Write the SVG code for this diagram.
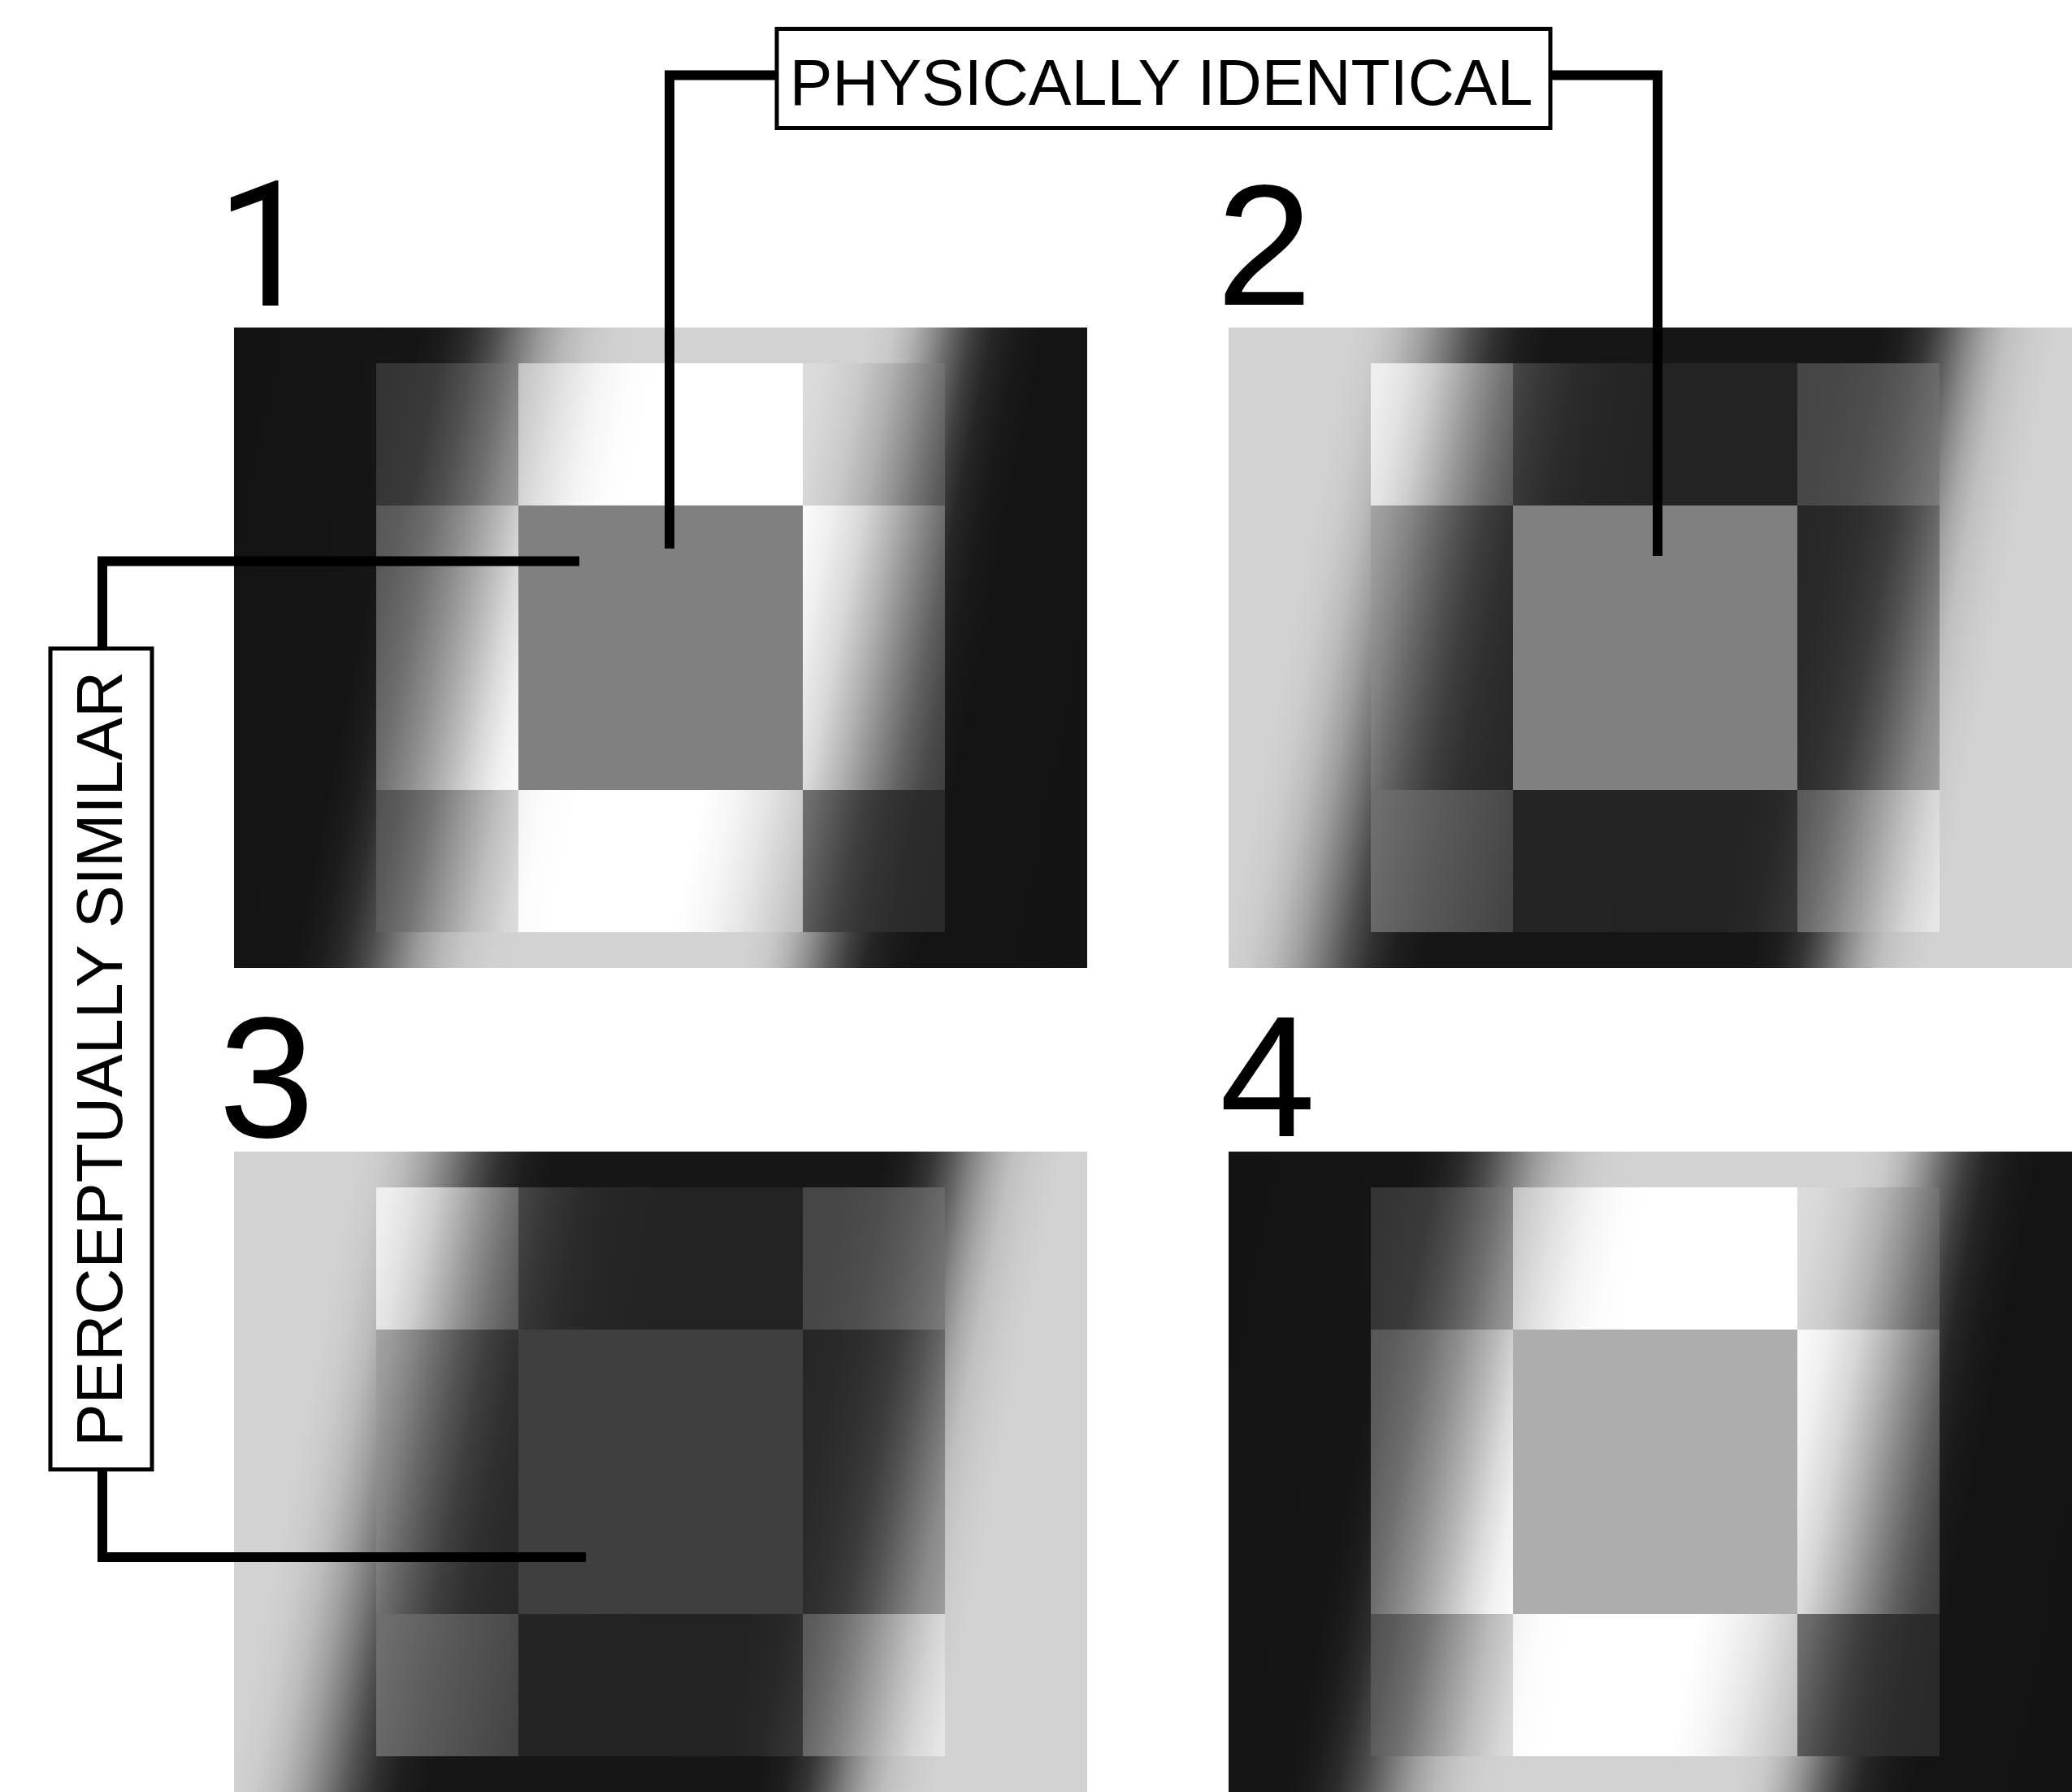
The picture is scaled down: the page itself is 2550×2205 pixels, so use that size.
<svg xmlns="http://www.w3.org/2000/svg" width="2550" height="2205" viewBox="0 0 2550 2205">
<style>
.lbl{font-family:"Liberation Sans",Arial,Helvetica,sans-serif;fill:#000}
.lbl.one{font-family:Roboto,"Open Sans",sans-serif}
.num{font-size:212px}
.tag{font-size:79px}
.box{fill:#fff;stroke:#000;stroke-width:5}
.conn{fill:none;stroke:#000;stroke-width:12;stroke-linejoin:miter;stroke-linecap:butt}
</style>
<defs>
<linearGradient id="gA" gradientUnits="userSpaceOnUse" x1="0" y1="0" x2="1250" y2="0" gradientTransform="skewX(-11.31)">
<stop offset="0" stop-color="#131313"/><stop offset=".184" stop-color="#151515"/><stop offset=".208" stop-color="#1c1c1c"/><stop offset=".232" stop-color="#2c2c2c"/><stop offset=".256" stop-color="#4a4a4a"/><stop offset=".28" stop-color="#747474"/><stop offset=".304" stop-color="#9c9c9c"/><stop offset=".328" stop-color="#b8b8b8"/><stop offset=".352" stop-color="#c8c8c8"/><stop offset=".376" stop-color="#d0d0d0"/><stop offset=".4" stop-color="#d2d2d2"/><stop offset=".624" stop-color="#d2d2d2"/><stop offset=".648" stop-color="#cacaca"/><stop offset=".668" stop-color="#b4b4b4"/><stop offset=".688" stop-color="#909090"/><stop offset=".708" stop-color="#646464"/><stop offset=".728" stop-color="#3e3e3e"/><stop offset=".748" stop-color="#262626"/><stop offset=".772" stop-color="#1a1a1a"/><stop offset=".8" stop-color="#141414"/><stop offset="1" stop-color="#131313"/>
</linearGradient>
<linearGradient id="aTL" gradientUnits="userSpaceOnUse" x1="0" y1="0" x2="1250" y2="0" gradientTransform="skewX(-11.31)">
<stop offset="0" stop-color="#343434"/><stop offset=".16" stop-color="#343434"/><stop offset=".208" stop-color="#3a3a3a"/><stop offset=".24" stop-color="#505050"/><stop offset=".272" stop-color="#6e6e6e"/><stop offset=".296" stop-color="#8a8a8a"/><stop offset=".32" stop-color="#9e9e9e"/><stop offset=".344" stop-color="#aaaaaa"/>
</linearGradient>
<linearGradient id="aTC" gradientUnits="userSpaceOnUse" x1="0" y1="0" x2="1250" y2="0" gradientTransform="skewX(-11.31)">
<stop offset="0" stop-color="#b0b0b0"/><stop offset=".272" stop-color="#b8b8b8"/><stop offset=".304" stop-color="#cccccc"/><stop offset=".336" stop-color="#e2e2e2"/><stop offset=".368" stop-color="#f4f4f4"/><stop offset=".4" stop-color="#fdfdfd"/><stop offset=".424" stop-color="#ffffff"/>
</linearGradient>
<linearGradient id="aTR" gradientUnits="userSpaceOnUse" x1="0" y1="0" x2="1250" y2="0" gradientTransform="skewX(-11.31)">
<stop offset="0" stop-color="#e0e0e0"/><stop offset=".56" stop-color="#dedede"/><stop offset=".592" stop-color="#d8d8d8"/><stop offset=".624" stop-color="#cacaca"/><stop offset=".656" stop-color="#b0b0b0"/><stop offset=".68" stop-color="#949494"/><stop offset=".704" stop-color="#747474"/><stop offset=".724" stop-color="#5c5c5c"/><stop offset=".748" stop-color="#4a4a4a"/>
</linearGradient>
<linearGradient id="aML" gradientUnits="userSpaceOnUse" x1="0" y1="0" x2="1250" y2="0" gradientTransform="skewX(-11.31)">
<stop offset="0" stop-color="#555555"/><stop offset=".168" stop-color="#555555"/><stop offset=".2" stop-color="#5c5c5c"/><stop offset=".232" stop-color="#6e6e6e"/><stop offset=".264" stop-color="#8e8e8e"/><stop offset=".296" stop-color="#b4b4b4"/><stop offset=".324" stop-color="#d8d8d8"/><stop offset=".348" stop-color="#f0f0f0"/><stop offset=".372" stop-color="#fcfcfc"/>
</linearGradient>
<linearGradient id="aMR" gradientUnits="userSpaceOnUse" x1="0" y1="0" x2="1250" y2="0" gradientTransform="skewX(-11.31)">
<stop offset="0" stop-color="#ffffff"/><stop offset=".592" stop-color="#fcfcfc"/><stop offset=".624" stop-color="#f0f0f0"/><stop offset=".656" stop-color="#d8d8d8"/><stop offset=".688" stop-color="#b0b0b0"/><stop offset=".716" stop-color="#888888"/><stop offset=".744" stop-color="#626262"/><stop offset=".768" stop-color="#4a4a4a"/><stop offset=".792" stop-color="#3e3e3e"/>
</linearGradient>
<linearGradient id="aBL" gradientUnits="userSpaceOnUse" x1="0" y1="0" x2="1250" y2="0" gradientTransform="skewX(-11.31)">
<stop offset="0" stop-color="#4a4a4a"/><stop offset=".224" stop-color="#4e4e4e"/><stop offset=".256" stop-color="#5a5a5a"/><stop offset=".288" stop-color="#727272"/><stop offset=".32" stop-color="#989898"/><stop offset=".352" stop-color="#bcbcbc"/><stop offset=".384" stop-color="#d6d6d6"/><stop offset=".408" stop-color="#e0e0e0"/>
</linearGradient>
<linearGradient id="aBC" gradientUnits="userSpaceOnUse" x1="0" y1="0" x2="1250" y2="0" gradientTransform="skewX(-11.31)">
<stop offset="0" stop-color="#f0f0f0"/><stop offset=".368" stop-color="#f2f2f2"/><stop offset=".4" stop-color="#fcfcfc"/><stop offset=".432" stop-color="#ffffff"/><stop offset=".552" stop-color="#ffffff"/><stop offset=".584" stop-color="#f6f6f6"/><stop offset=".616" stop-color="#e6e6e6"/><stop offset=".648" stop-color="#d0d0d0"/><stop offset=".68" stop-color="#b8b8b8"/>
</linearGradient>
<linearGradient id="aBR" gradientUnits="userSpaceOnUse" x1="0" y1="0" x2="1250" y2="0" gradientTransform="skewX(-11.31)">
<stop offset="0" stop-color="#787878"/><stop offset=".64" stop-color="#767676"/><stop offset=".664" stop-color="#6a6a6a"/><stop offset=".688" stop-color="#545454"/><stop offset=".712" stop-color="#404040"/><stop offset=".736" stop-color="#343434"/><stop offset=".768" stop-color="#2c2c2c"/><stop offset=".8" stop-color="#2a2a2a"/>
</linearGradient>
<linearGradient id="gB" gradientUnits="userSpaceOnUse" x1="0" y1="0" x2="1250" y2="0" gradientTransform="skewX(-11.31)">
<stop offset="0" stop-color="#d2d2d2"/><stop offset=".12" stop-color="#d2d2d2"/><stop offset=".144" stop-color="#cccccc"/><stop offset=".168" stop-color="#bcbcbc"/><stop offset=".192" stop-color="#a0a0a0"/><stop offset=".216" stop-color="#7a7a7a"/><stop offset=".24" stop-color="#505050"/><stop offset=".264" stop-color="#303030"/><stop offset=".288" stop-color="#1e1e1e"/><stop offset=".316" stop-color="#161616"/><stop offset=".64" stop-color="#161616"/><stop offset=".664" stop-color="#1e1e1e"/><stop offset=".688" stop-color="#343434"/><stop offset=".708" stop-color="#585858"/><stop offset=".728" stop-color="#848484"/><stop offset=".748" stop-color="#a8a8a8"/><stop offset=".768" stop-color="#c0c0c0"/><stop offset=".792" stop-color="#cccccc"/><stop offset=".816" stop-color="#d2d2d2"/><stop offset="1" stop-color="#d2d2d2"/>
</linearGradient>
<linearGradient id="bTL" gradientUnits="userSpaceOnUse" x1="0" y1="0" x2="1250" y2="0" gradientTransform="skewX(-11.31)">
<stop offset="0" stop-color="#f0f0f0"/><stop offset=".16" stop-color="#eeeeee"/><stop offset=".184" stop-color="#e2e2e2"/><stop offset=".208" stop-color="#cecece"/><stop offset=".232" stop-color="#b0b0b0"/><stop offset=".256" stop-color="#909090"/><stop offset=".28" stop-color="#747474"/><stop offset=".304" stop-color="#5e5e5e"/><stop offset=".328" stop-color="#505050"/>
</linearGradient>
<linearGradient id="bTC" gradientUnits="userSpaceOnUse" x1="0" y1="0" x2="1250" y2="0" gradientTransform="skewX(-11.31)">
<stop offset="0" stop-color="#505050"/><stop offset=".288" stop-color="#474747"/><stop offset=".32" stop-color="#363636"/><stop offset=".352" stop-color="#2b2b2b"/><stop offset=".384" stop-color="#262626"/><stop offset=".45" stop-color="#232323"/><stop offset="1" stop-color="#232323"/>
</linearGradient>
<linearGradient id="bTR" gradientUnits="userSpaceOnUse" x1="0" y1="0" x2="1250" y2="0" gradientTransform="skewX(-11.31)">
<stop offset="0" stop-color="#454545"/><stop offset=".56" stop-color="#454545"/><stop offset=".608" stop-color="#474747"/><stop offset=".648" stop-color="#4e4e4e"/><stop offset=".68" stop-color="#5a5a5a"/><stop offset=".708" stop-color="#6a6a6a"/><stop offset=".732" stop-color="#7a7a7a"/><stop offset=".76" stop-color="#8a8a8a"/>
</linearGradient>
<linearGradient id="bML" gradientUnits="userSpaceOnUse" x1="0" y1="0" x2="1250" y2="0" gradientTransform="skewX(-11.31)">
<stop offset="0" stop-color="#a8a8a8"/><stop offset=".168" stop-color="#a6a6a6"/><stop offset=".192" stop-color="#9a9a9a"/><stop offset=".216" stop-color="#848484"/><stop offset=".24" stop-color="#6a6a6a"/><stop offset=".264" stop-color="#525252"/><stop offset=".288" stop-color="#3e3e3e"/><stop offset=".316" stop-color="#303030"/><stop offset=".344" stop-color="#2a2a2a"/><stop offset=".372" stop-color="#272727"/>
</linearGradient>
<linearGradient id="bMR" gradientUnits="userSpaceOnUse" x1="0" y1="0" x2="1250" y2="0" gradientTransform="skewX(-11.31)">
<stop offset="0" stop-color="#262626"/><stop offset=".592" stop-color="#262626"/><stop offset=".632" stop-color="#292929"/><stop offset=".664" stop-color="#303030"/><stop offset=".692" stop-color="#3c3c3c"/><stop offset=".716" stop-color="#525252"/><stop offset=".74" stop-color="#6e6e6e"/><stop offset=".764" stop-color="#8a8a8a"/><stop offset=".792" stop-color="#9e9e9e"/>
</linearGradient>
<linearGradient id="bBL" gradientUnits="userSpaceOnUse" x1="0" y1="0" x2="1250" y2="0" gradientTransform="skewX(-11.31)">
<stop offset="0" stop-color="#707070"/><stop offset=".24" stop-color="#6e6e6e"/><stop offset=".304" stop-color="#5a5a5a"/><stop offset=".392" stop-color="#444444"/>
</linearGradient>
<linearGradient id="bBC" gradientUnits="userSpaceOnUse" x1="0" y1="0" x2="1250" y2="0" gradientTransform="skewX(-11.31)">
<stop offset="0" stop-color="#2a2a2a"/><stop offset=".384" stop-color="#242424"/><stop offset=".6" stop-color="#232323"/><stop offset=".636" stop-color="#282828"/><stop offset=".672" stop-color="#363636"/>
</linearGradient>
<linearGradient id="bBR" gradientUnits="userSpaceOnUse" x1="0" y1="0" x2="1250" y2="0" gradientTransform="skewX(-11.31)">
<stop offset="0" stop-color="#565656"/><stop offset=".64" stop-color="#565656"/><stop offset=".664" stop-color="#5c5c5c"/><stop offset=".688" stop-color="#6c6c6c"/><stop offset=".712" stop-color="#848484"/><stop offset=".736" stop-color="#a0a0a0"/><stop offset=".76" stop-color="#bcbcbc"/><stop offset=".784" stop-color="#d4d4d4"/><stop offset=".812" stop-color="#e6e6e6"/>
</linearGradient>
<g id="patA">
<rect width="1050" height="788" fill="url(#gA)"/>
<rect x="175" y="44" width="175" height="175" fill="url(#aTL)"/>
<rect x="350" y="44" width="350" height="175" fill="url(#aTC)"/>
<rect x="700" y="44" width="175" height="175" fill="url(#aTR)"/>
<rect x="175" y="219" width="175" height="350" fill="url(#aML)"/>
<rect x="700" y="219" width="175" height="350" fill="url(#aMR)"/>
<rect x="175" y="569" width="175" height="175" fill="url(#aBL)"/>
<rect x="350" y="569" width="350" height="175" fill="url(#aBC)"/>
<rect x="700" y="569" width="175" height="175" fill="url(#aBR)"/>
</g>
<g id="patB">
<rect width="1050" height="788" fill="url(#gB)"/>
<rect x="175" y="44" width="175" height="175" fill="url(#bTL)"/>
<rect x="350" y="44" width="350" height="175" fill="url(#bTC)"/>
<rect x="700" y="44" width="175" height="175" fill="url(#bTR)"/>
<rect x="175" y="219" width="175" height="350" fill="url(#bML)"/>
<rect x="700" y="219" width="175" height="350" fill="url(#bMR)"/>
<rect x="175" y="569" width="175" height="175" fill="url(#bBL)"/>
<rect x="350" y="569" width="350" height="175" fill="url(#bBC)"/>
<rect x="700" y="569" width="175" height="175" fill="url(#bBR)"/>
</g>
</defs>
<rect width="2550" height="2205" fill="#ffffff"/>
<g id="panel-1" transform="translate(288,403)">
<use href="#patA"/>
<rect x="350" y="219" width="350" height="350" fill="#808080"/>
</g>
<g id="panel-2" transform="translate(1512,403)">
<use href="#patB"/>
<rect x="350" y="219" width="350" height="350" fill="#808080"/>
</g>
<g id="panel-3" transform="translate(288,1417)">
<use href="#patB"/>
<rect x="350" y="219" width="350" height="350" fill="#3f3f3f"/>
</g>
<g id="panel-4" transform="translate(1512,1417)">
<use href="#patA"/>
<rect x="350" y="219" width="350" height="350" fill="#adadad"/>
</g>
<g id="numbers">
<text class="lbl one" x="266" y="376" font-size="215">1</text>
<text class="lbl num" x="1497" y="375">2</text>
<text class="lbl num" x="269" y="1399">3</text>
<text class="lbl num" x="1501" y="1398">4</text>
</g>
<g id="connectors">
<path class="conn" d="M956 92.5H824V675"/>
<path class="conn" d="M1908 92.5H2040V684"/>
<path class="conn" d="M713 690.5H126V798"/>
<path class="conn" d="M126 1808V1916H721"/>
</g>
<g id="physically-identical">
<rect class="box" x="956" y="35.5" width="952" height="122"/>
<text class="lbl tag" x="1429" y="129" text-anchor="middle">PHYSICALLY IDENTICAL</text>
</g>
<g id="perceptually-similar">
<rect class="box" x="62" y="798" width="125" height="1010"/>
<text class="lbl tag" x="150" y="1303" text-anchor="middle" transform="rotate(-90 150 1303)">PERCEPTUALLY SIMILAR</text>
</g>
</svg>
